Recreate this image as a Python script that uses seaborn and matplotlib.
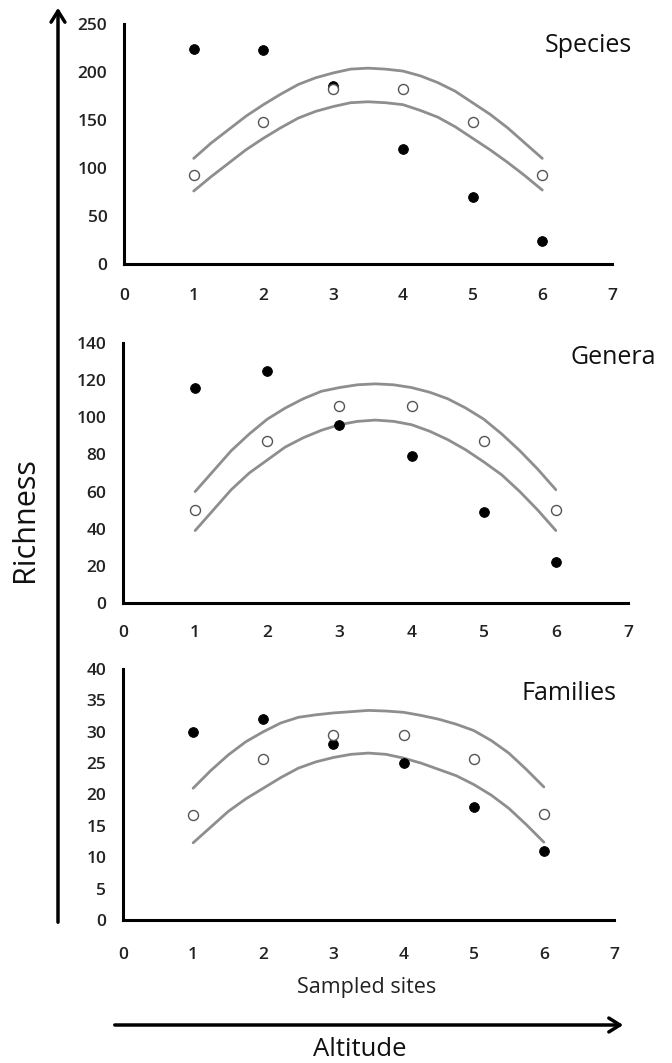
import numpy as np
import pandas as pd
import matplotlib
matplotlib.use("Agg")
import matplotlib.pyplot as plt
import seaborn as sns

# sampled sites
sites = [1, 2, 3, 4, 5, 6]
curve_x = [1, 1.25, 1.5, 1.75, 2, 2.25, 2.5, 2.75, 3, 3.25, 3.5,
           3.75, 4, 4.25, 4.5, 4.75, 5, 5.25, 5.5, 5.75, 6]

# observed (filled) and expected (open) richness, with the two envelope curves
species_obs = [224, 223, 185, 120, 70, 24]
species_exp = [93, 148, 182, 182, 148, 93]
species_up = [110, 126, 140, 154, 166, 177, 187, 194, 199, 203, 204,
              203, 201, 196, 189, 180, 168, 156, 142, 126, 110]
species_lo = [76, 91, 105, 119, 131, 142, 152, 159, 164, 168, 169,
              168, 166, 160, 153, 143, 131, 119, 106, 92, 77]

genera_obs = [116, 125, 96, 79, 49, 22]
genera_exp = [50, 87.5, 106, 106, 87.5, 50]
genera_up = [60, 71, 82, 91, 99, 105, 110, 114, 116, 117.5, 118,
             117.5, 116, 113.5, 110, 105, 99, 91, 82, 72, 61]
genera_lo = [39, 50, 61, 70, 77, 84, 89, 93, 96, 97.8, 98.5,
             97.8, 96, 92.5, 88, 82.5, 76, 69, 60, 50, 39]

families_obs = [30, 32, 28, 25, 18, 11]
families_exp = [16.8, 25.7, 29.5, 29.5, 25.7, 16.9]
families_up = [21, 23.8, 26.3, 28.4, 30, 31.4, 32.3, 32.7, 33, 33.2, 33.4,
               33.3, 33.1, 32.6, 32, 31.2, 30.2, 28.6, 26.6, 24, 21.2]
families_lo = [12.3, 14.8, 17.3, 19.3, 21, 22.7, 24.2, 25.2, 25.9, 26.4, 26.6,
               26.4, 25.8, 25, 24, 23, 21.6, 19.9, 17.8, 15.2, 12.4]

panels = [
    ("Species", species_obs, species_exp, species_up, species_lo, 250, 50),
    ("Genera", genera_obs, genera_exp, genera_up, genera_lo, 140, 20),
    ("Families", families_obs, families_exp, families_up, families_lo, 40, 5),
]

sns.set_style("white")
plt.rcParams['font.family'] = ['Open Sans', 'DejaVu Sans']

W, H = 672, 1063
fig = plt.figure(figsize=(W / 100, H / 100), dpi=100)

# axes boxes in pixels: left, right (x=7), top (ymax), bottom (0)
boxes = [(124, 612, 24, 264), (123, 628, 343, 603), (123, 614, 669, 920)]
title_pos = [(632, 45), (656, 357), (617, 694)]
xpads = [13, 12, 15.5]

for i, (name, obs, exp, up, lo, ymax, ystep) in enumerate(panels):
    l, r, t, b = boxes[i]
    ax = fig.add_axes([l / W, 1 - b / H, (r - l) / W, (b - t) / H])
    sns.lineplot(x=curve_x, y=up, ax=ax, color='#8e8e8e', lw=2)
    sns.lineplot(x=curve_x, y=lo, ax=ax, color='#8e8e8e', lw=2)
    sns.scatterplot(x=sites, y=obs, ax=ax, color='black', s=50, edgecolor='black', zorder=3)
    sns.scatterplot(x=sites, y=exp, ax=ax, color='white', s=52, edgecolor='#555555',
                    linewidth=1.0, zorder=4)
    ax.set_xlim(0, 7)
    ax.set_ylim(0, ymax)
    ax.set_xticks(range(0, 8))
    ax.set_yticks(np.arange(0, ymax + 1, ystep))
    for s in ['top', 'right']:
        ax.spines[s].set_visible(False)
    for s in ['left', 'bottom']:
        ax.spines[s].set_linewidth(2.2)
        ax.spines[s].set_color('black')
    ax.tick_params(axis='both', length=4, width=2, color='black', labelsize=12.5,
                   labelcolor='#222222')
    ax.tick_params(axis='x', pad=xpads[i])
    ax.tick_params(axis='y', pad=8)
    for lab in ax.get_xticklabels() + ax.get_yticklabels():
        lab.set_fontweight('semibold')
    ax.set_facecolor('none')
    tx, ty = title_pos[i]
    fig.text(tx / W, 1 - ty / H, name, ha='right', va='center', fontsize=18,
             color='#111111')

fig.text(367 / W, 1 - 987 / H, "Sampled sites", ha='center', va='center', fontsize=15.5,
         color='#222222')
fig.text(360 / W, 1 - 1050 / H, "Altitude", ha='center', va='center', fontsize=18.5,
         color='#111111')
fig.text(25 / W, 1 - 520 / H, "Richness", ha='center', va='center', fontsize=22,
         rotation=90, color='#111111')

# axis arrows
fig.patches.append(matplotlib.patches.FancyArrowPatch(
    (112 / W, 1 - 1025 / H), (626 / W, 1 - 1025 / H), transform=fig.transFigure,
    arrowstyle='->,head_length=8,head_width=5', lw=2.5, color='black',
    mutation_scale=1))
fig.patches.append(matplotlib.patches.FancyArrowPatch(
    (58 / W, 1 - 925 / H), (58 / W, 1 - 5 / H), transform=fig.transFigure,
    arrowstyle='->,head_length=8,head_width=5', lw=2.5, color='black',
    mutation_scale=1))

fig.savefig("out.png", dpi=100, facecolor='white')
